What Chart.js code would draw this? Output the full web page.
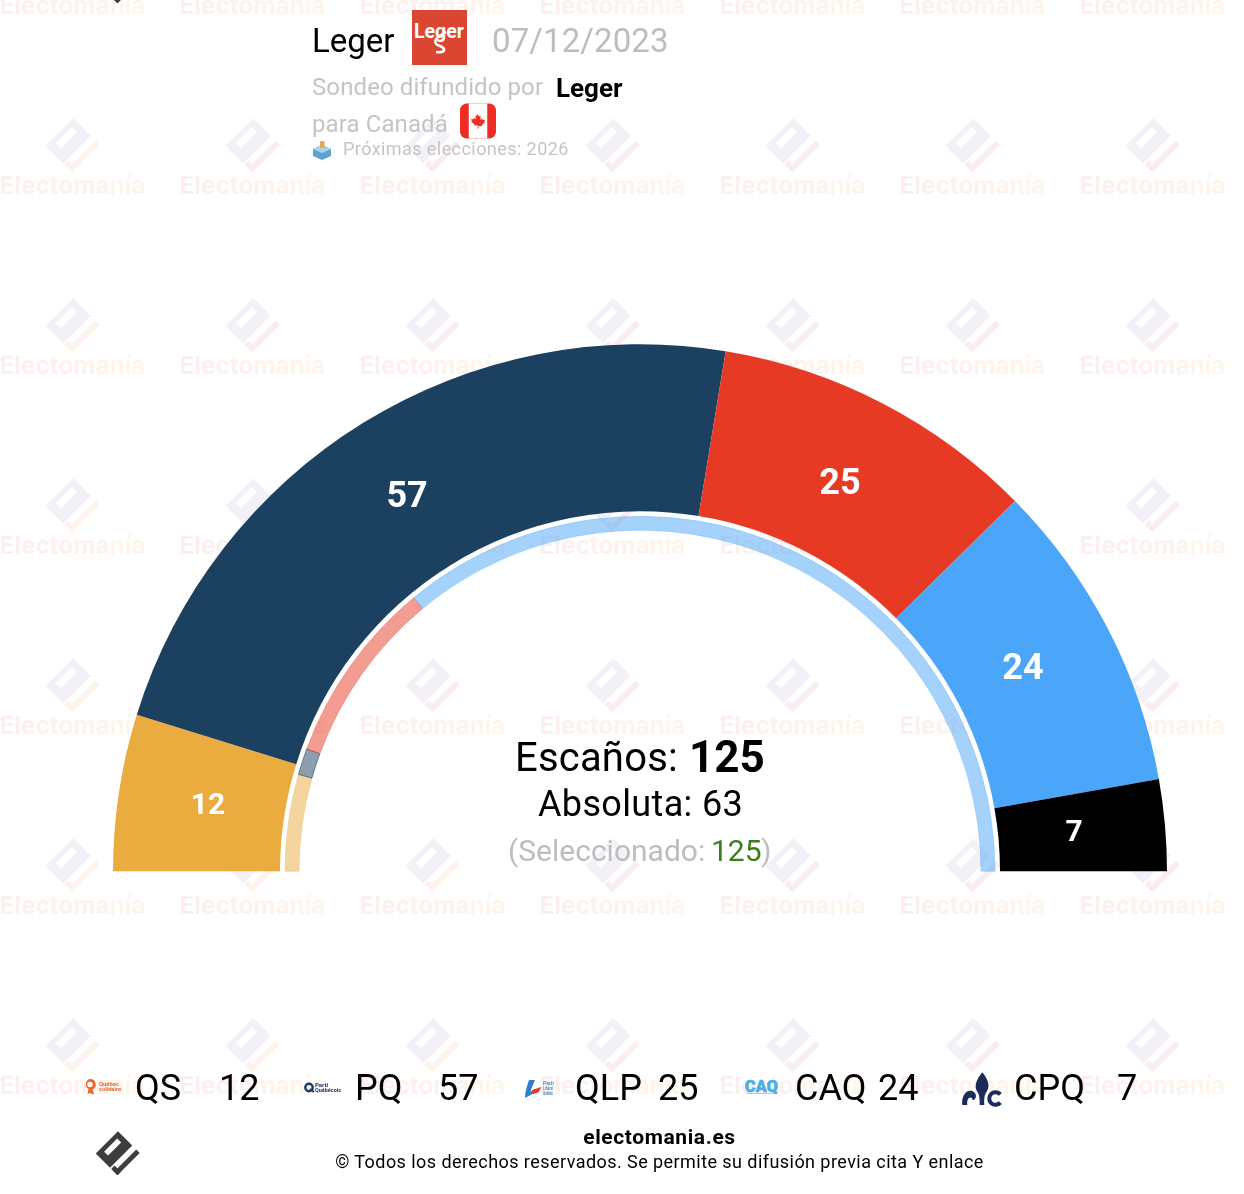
<!DOCTYPE html>
<html><head><meta charset="utf-8">
<script src="https://cdn.jsdelivr.net/npm/chart.js@4"></script>
<style>
html,body{margin:0;padding:0;background:#fff;width:1244px;height:1194px;overflow:hidden;font-family:Roboto,sans-serif}
#wrap{position:relative;width:1244px;height:1194px;overflow:hidden}
canvas{position:absolute;left:0;top:0}
.t{position:absolute;white-space:nowrap;line-height:1}
svg.i{position:absolute;display:block}
</style></head><body>
<div id="wrap"><canvas id="c" width="1244" height="1194"></canvas><div id="ov"></div></div>
<script>
const parties=['QS','PQ','QLP','CAQ','CPQ'];
const seats=[12,57,25,24,7];
const previousSeats=[11,3,21,90,0];
const partyColors=['#EAAB3F','#1C4060','#E63A25','#4BA5F8','#000000'];
const previousColors=['#EAAB3F80','#1C406080','#E63A2580','#4BA5F880','#00000000'];
const previousBorders=['#EAAB3F55','#1C406088','#E63A2555','#4BA5F84d','#00000000'];
const labelFont=[30,36,36,36,30];
const labelShiftX=[6.5,0,-3.8,-10.9,-7.8];
const labelShiftY=[-1.4,0.5,3.9,-1.7,-2];
const legendNameX=[135,355,575,795,1014];
const legendValueRight=[259,478,698,918,1137];

const wmCols=[73,253,433,613,793,973,1153];
const wmRows=[6,186,366,546,726,906,1086];

function wmLogo(ctx,cx,cy,col1,col2){
  ctx.save();ctx.translate(cx,cy);ctx.rotate(Math.PI/4);
  ctx.fillStyle=col1;
  ctx.beginPath();
  ctx.rect(-19,-19,25,39);ctx.rect(-13.4,-12,7,23);
  ctx.fill('evenodd');
  ctx.fillStyle=col2;
  ctx.beginPath();
  ctx.rect(13,-19,6,39);ctx.rect(8,14,11,6);
  ctx.fill();
  ctx.restore();
}
const backdrop={id:'backdrop',beforeDatasetsDraw(chart){
  const ctx=chart.ctx;ctx.save();
  ctx.font='700 24.300px Inter, Roboto, sans-serif';ctx.textAlign='center';ctx.textBaseline='middle';
  for(const x of wmCols)for(const y of wmRows){
    const g=ctx.createLinearGradient(x-73,0,x+73,0);
    g.addColorStop(0,'#fbefef');g.addColorStop(1,'#fef6ec');
    ctx.fillStyle=g;ctx.fillText('Electomanía',x-0.5,y+1);
    if(y>6){
      const c=ctx.createLinearGradient(x-10,y-20,x+27,y-41);
      c.addColorStop(0,'#faedef');c.addColorStop(1,'#fdf2ec');
      wmLogo(ctx,x,y-41,'#f4f0f7',c);
    }
  }
  ctx.restore();
}};
const valueLabels={id:'valueLabels',afterDatasetsDraw(chart){
  const ctx=chart.ctx,arcs=chart.getDatasetMeta(0).data;
  ctx.save();ctx.fillStyle='#fff';ctx.textAlign='center';ctx.textBaseline='alphabetic';
  arcs.forEach((a,i)=>{
    const p=a.getCenterPoint();
    ctx.font='700 '+labelFont[i]+'px Roboto, sans-serif';
    ctx.fillText(String(seats[i]),p.x+labelShiftX[i],p.y+labelShiftY[i]+labelFont[i]*0.355);
  });
  ctx.restore();
}};
new Chart(document.getElementById('c'),{
  type:'doughnut',
  data:{labels:parties,datasets:[
    {data:seats,backgroundColor:partyColors,borderWidth:0,weight:167,cutout:((527-180.593)/527*100)+'%'},
    {data:previousSeats,backgroundColor:previousColors,borderColor:previousBorders,borderWidth:1,weight:13.593,cutout:(341/527*100)+'%'}
  ]},
  options:{
    responsive:false,animation:false,rotation:-90,circumference:180,
    layout:{padding:{left:113,right:77,top:344,bottom:322.5}},
    plugins:{legend:{display:false},tooltip:{enabled:false},title:{display:false}}
  },
  plugins:[backdrop,valueLabels]
});

const ov=document.getElementById('ov');
function T(txt,x,y,size,color,weight,extra){
  const d=document.createElement('div');d.className='t';d.textContent=txt;
  d.style.cssText=`left:${x}px;top:${y}px;font-size:${size}px;color:${color};font-weight:${weight||400};${extra||''}`;
  ov.appendChild(d);return d;
}
function S(x,y,w,h,vb,inner){
  ov.insertAdjacentHTML('beforeend',`<svg class="i" style="left:${x}px;top:${y}px" width="${w}" height="${h}" viewBox="${vb}">${inner}</svg>`);
}
const logoBody='<g transform="rotate(45)"><path fill-rule="evenodd" d="M-19-19H6V20H-19zM-13.400-12V11H-6.400V-12z" fill="#3d3d3d"/><rect x="13" y="-19" width="6" height="39" fill="#3d3d3d"/><rect x="8" y="14" width="11" height="6" fill="#3d3d3d"/></g>';
// header
T('Leger',312,24,33,'#000');
T('07/12/2023',492,24,33,'#bdbdbd',400,'letter-spacing:.1px');
T('Sondeo difundido por',312,75,24,'#c4c4c4',400,'letter-spacing:.1px');
T('Leger',556,75,26,'#000',700);
T('para Canadá',312,112,24,'#c4c4c4',400,'letter-spacing:.1px');
T('Próximas elecciones: 2026',343,140,18,'#c4c4c4',400,'letter-spacing:.43px');
S(412,10,55,55,'0 0 55 55','<rect width="55" height="55" fill="#DB4632"/><path d="M34 22C22 28 20 33 28 36C35 39 33 43 24 42" fill="none" stroke="#fff" stroke-width="2.500"/><text x="27" y="28" text-anchor="middle" font-family="Roboto" font-weight="700" font-size="21" textLength="50" lengthAdjust="spacingAndGlyphs" fill="#fff">Leger</text>');
S(460,103,36,36,'0 0 37 36','<rect width="37" height="36" rx="7" fill="#EE2D24"/><rect x="9" width="19" height="36" fill="#fff"/><path d="M18.500 9l2 3.500 2-.8-.8 5 2.300-1.800.8 2 3-.3-.8 3 .9.6-4.200 3.200.5 1.600-4.700-.5V28h-1v-4.500l-4.700.5.5-1.600-4.200-3.200.9-.6-.8-3 3 .3.8-2 2.300 1.800-.8-5 2 .8z" fill="#EE2D24" transform="translate(3.400 3.500) scale(.8)"/>');
S(312,140,20,20,'0 0 20 20','<path d="M10 5l9 4v7l-9 4-9-4V9z" fill="#5ea3cf"/><path d="M10 5l9 4-9 4-9-4z" fill="#a9d3ea"/><rect x="8" y="1" width="4.500" height="7" rx="1" fill="#e8a64a"/>');
// centre
T('Escaños:',515,738,40,'#000',400,'letter-spacing:.2px');
T('125',689,735,44,'#000',700);
T('Absoluta: 63',538,786,36,'#000',400,'letter-spacing:.35px');
T('(Seleccionado: ',508,836,30,'#bdbdbd');
T('125',711,836,30,'#3a7d1f');
T(')',761,836,30,'#bdbdbd');
// legend
parties.forEach((p,i)=>{
  T(p,legendNameX[i],1070,36,'#000');
  const v=T(String(seats[i]),0,1070,36,'#000');
  v.style.left=(legendValueRight[i]-v.offsetWidth)+'px';
});
S(84,1078,38,18,'0 0 38 18','<path d="M6 1a5.500 5.500 0 0 1 2.500 10.500l1.500 5-4.500-1.500-2 1 1-5A5.500 5.500 0 0 1 6 1z" fill="#F0632A"/><circle cx="6" cy="6.500" r="2.700" fill="#fff"/><text x="15" y="7.500" font-family="Roboto" font-weight="700" font-size="6" textLength="20" lengthAdjust="spacingAndGlyphs" fill="#F0632A">Québec</text><text x="15" y="13" font-family="Roboto" font-weight="700" font-size="6" textLength="22" lengthAdjust="spacingAndGlyphs" fill="#F0632A">solidaire</text>');
S(304,1080,37,16,'0 0 37 16','<circle cx="5" cy="7.500" r="3.700" fill="none" stroke="#1E3A66" stroke-width="2.400"/><path d="M6 9l4 3" stroke="#1E3A66" stroke-width="1.800"/><text x="11" y="7" font-family="Roboto" font-weight="700" font-size="6" fill="#1E3A66">Parti</text><text x="11" y="12" font-family="Roboto" font-weight="700" font-size="5.500" textLength="26" lengthAdjust="spacingAndGlyphs" fill="#1E3A66">Québécois</text>');
S(524,1079,33,20,'0 0 33 20','<path d="M5 1h6C9 6 7 10 6.500 13l5-2-1 3L1 19C1 13 3 7 5 1z" fill="#2F7FD0"/><path d="M8 11l9-3c-.5 3-2 5-4 6l-6 1z" fill="#E5392C"/><text x="19" y="6" font-family="Roboto" font-weight="700" font-size="5" fill="#5b86b8">Parti</text><text x="19" y="11" font-family="Roboto" font-weight="700" font-size="5" textLength="10" lengthAdjust="spacingAndGlyphs" fill="#5b86b8">Libéral</text><text x="19" y="16" font-family="Roboto" font-weight="700" font-size="5" textLength="10" lengthAdjust="spacingAndGlyphs" fill="#5b86b8">Québec</text>');
S(744,1079,35,16,'0 0 35 16','<text x="1" y="12.500" font-family="Roboto" font-weight="900" font-size="16" textLength="33" lengthAdjust="spacingAndGlyphs" fill="#4BAEEA" stroke="#4BAEEA" stroke-width=".6">CAQ</text><rect x="3" y="14" width="28" height="1" fill="#7fb4d4" opacity=".7"/>');
S(955,1065,60,45,'0 0 180 135','<g fill="#1B2A58"><path d="M82 22C100 45 108 65 92 85C87 95 87 110 88 120L74 120C74 105 74 95 70 85C54 65 64 45 82 22Z"/><path d="M22 120C18 92 35 72 52 78C66 84 67 102 53 106C53 97 46 95 41 100C36 106 36 112 37 120Z"/></g><path d="M136 88A19 19 0 1 0 136 113" fill="none" stroke="#1B2A58" stroke-width="12"/>');
// footer
T('electomania.es',0,1127,21,'#000',700,'width:1319px;text-align:center;letter-spacing:.6px');
T('© Todos los derechos reservados. Se permite su difusión previa cita Y enlace',0,1153,18,'#000',400,'width:1319px;text-align:center;letter-spacing:.44px');
S(93,1128,50,50,'-31 -31 62 62',logoBody);
S(93,-44,50,50,'-31 -31 62 62',logoBody);
</script>
</body></html>
